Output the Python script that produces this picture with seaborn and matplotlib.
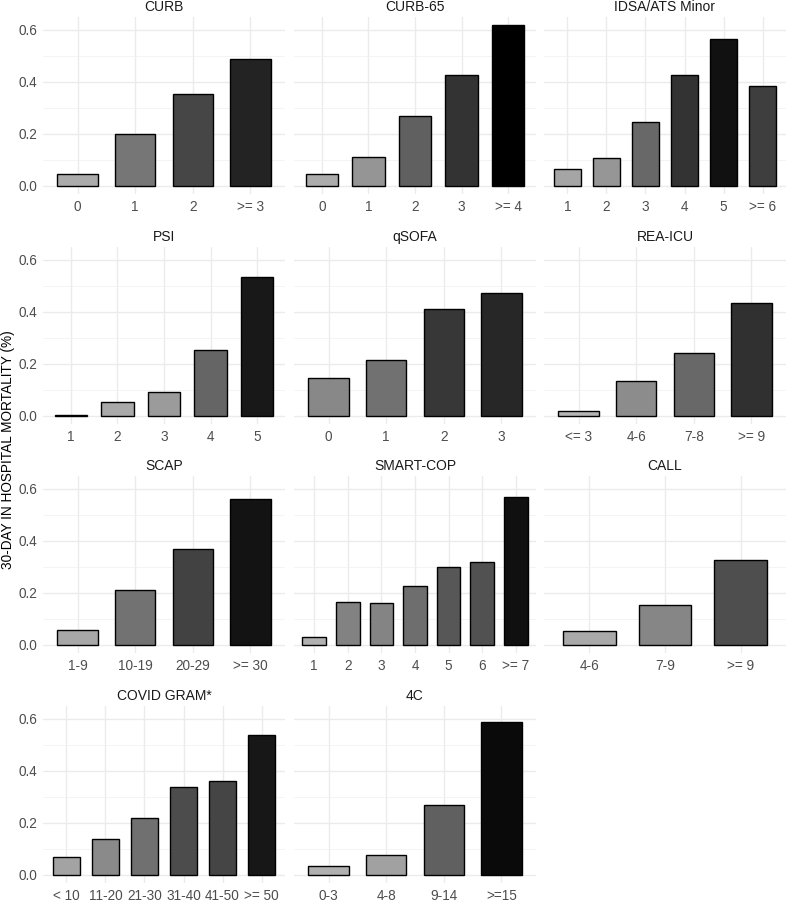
import numpy as np
import pandas as pd
import matplotlib
matplotlib.use('Agg')
import matplotlib.pyplot as plt
import seaborn as sns

# mortality by score category, one list per score
scores = ['CURB', 'CURB-65', 'IDSA/ATS Minor', 'PSI', 'qSOFA', 'REA-ICU',
          'SCAP', 'SMART-COP', 'CALL', 'COVID GRAM*', '4C']

cats = {
    'CURB': ['0', '1', '2', '>= 3'],
    'CURB-65': ['0', '1', '2', '3', '>= 4'],
    'IDSA/ATS Minor': ['1', '2', '3', '4', '5', '>= 6'],
    'PSI': ['1', '2', '3', '4', '5'],
    'qSOFA': ['0', '1', '2', '3'],
    'REA-ICU': ['<= 3', '4-6', '7-8', '>= 9'],
    'SCAP': ['1-9', '10-19', '20-29', '>= 30'],
    'SMART-COP': ['1', '2', '3', '4', '5', '6', '>= 7'],
    'CALL': ['4-6', '7-9', '>= 9'],
    'COVID GRAM*': ['< 10', '11-20', '21-30', '31-40', '41-50', '>= 50'],
    '4C': ['0-3', '4-8', '9-14', '>=15'],
}

mortality = {
    'CURB': [0.047, 0.201, 0.355, 0.488],
    'CURB-65': [0.045, 0.110, 0.268, 0.427, 0.619],
    'IDSA/ATS Minor': [0.064, 0.106, 0.245, 0.427, 0.565, 0.386],
    'PSI': [0.003, 0.053, 0.093, 0.253, 0.536],
    'qSOFA': [0.146, 0.216, 0.412, 0.474],
    'REA-ICU': [0.020, 0.135, 0.243, 0.436],
    'SCAP': [0.058, 0.212, 0.370, 0.560],
    'SMART-COP': [0.030, 0.165, 0.160, 0.225, 0.300, 0.320, 0.570],
    'CALL': [0.054, 0.154, 0.328],
    'COVID GRAM*': [0.069, 0.140, 0.220, 0.337, 0.360, 0.540],
    '4C': [0.033, 0.075, 0.270, 0.590],
}

rows = []
for s in scores:
    for c, v in zip(cats[s], mortality[s]):
        rows.append({'score': s, 'cat': c, 'mort': v})
df = pd.DataFrame(rows)

vmin, vmax = df['mort'].min(), df['mort'].max()


def gray_for(v, l_low=76.0):
    # gradient from light gray to black, linear in lightness
    t = (v - vmin) / (vmax - vmin)
    L = l_low * (1 - t) ** 1.1
    Y = ((L + 16) / 116) ** 3 if L > 8 else L / 903.3
    g = 1.055 * Y ** (1 / 2.4) - 0.055 if Y > 0.0031308 else 12.92 * Y
    g = min(max(g, 0), 1)
    return (g, g, g)


sns.set_theme(style='whitegrid')
plt.rcParams['font.family'] = ['Liberation Sans', 'DejaVu Sans']

W, H = 787, 901
fig = plt.figure(figsize=(W / 100, H / 100), dpi=100)

col_x = [43, 294, 544]
pw = 242
row_top = [17, 247, 476, 706]
ph = 177

for i, s in enumerate(scores):
    r, c = divmod(i, 3)
    ax = fig.add_axes([col_x[c] / W, 1 - (row_top[r] + ph) / H, pw / W, ph / H])
    sub = df[df['score'] == s]
    pal = {k: gray_for(v) for k, v in zip(sub['cat'], sub['mort'])}
    sns.barplot(data=sub, x='cat', y='mort', hue='cat', palette=pal, legend=False,
                order=cats[s], width=0.7, edgecolor='black', linewidth=1.0,
                saturation=1, ax=ax)
    n = len(cats[s])
    ax.set_xlim(-0.6, n - 0.4)
    ax.set_ylim(-0.031, 0.650)
    ax.set_yticks([0, 0.2, 0.4, 0.6])
    ax.set_yticks([0.1, 0.3, 0.5], minor=True)
    ax.set_facecolor('white')
    ax.grid(True, which='major', color='#EBEBEB', linewidth=1.0)
    ax.grid(True, which='minor', axis='y', color='#F2F2F2', linewidth=0.6)
    ax.set_axisbelow(True)
    for sp in ax.spines.values():
        sp.set_visible(False)
    ax.tick_params(axis='both', length=0, labelsize=9.8, labelcolor='#4D4D4D', pad=4)
    if c == 0:
        ax.set_yticklabels(['0.0', '0.2', '0.4', '0.6'])
    else:
        ax.set_yticklabels([])
    ax.set_xlabel('')
    ax.set_ylabel('')
    ax.set_title(s, fontsize=10, color='#1A1A1A', pad=4)

fig.text(8 / W, 1 - 450 / H, '30-DAY IN HOSPITAL MORTALITY (%)', rotation=90,
         ha='center', va='center', fontsize=9.8, color='black')

fig.savefig('out.png', dpi=100, facecolor='white')
